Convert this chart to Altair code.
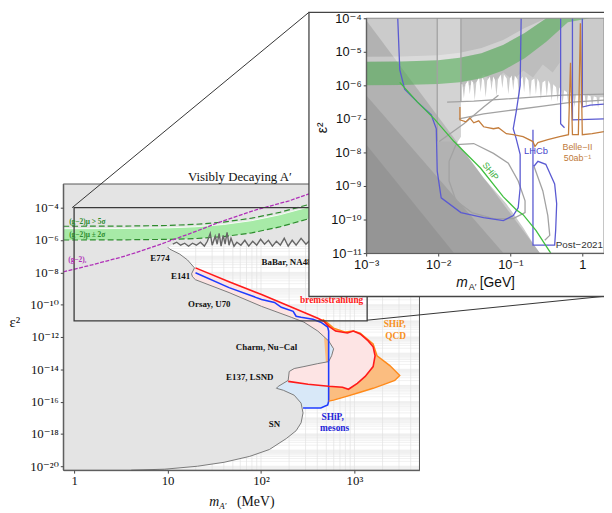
import altair as alt
import numpy as np
import pandas as pd

W, H = 604, 503
SERIF = "Liberation Serif, DejaVu Serif, serif"
SANS = "Liberation Sans, DejaVu Sans, sans-serif"

# ================= Main panel: log10(m_A' / MeV), log10(eps^2) =================
MAIN_LM_LIM = [-0.116, 3.696]
MAIN_LE_LIM = [-20.244, -2.534]
MAIN_XRANGE = [56, 417]
MAIN_YRANGE = [465, 175]

BABAR_LM = [1.056, 1.098, 1.140, 1.183, 1.225, 1.267, 1.309, 1.352, 1.394, 1.426,
            1.457, 1.478, 1.510, 1.531, 1.552, 1.573, 1.595, 1.616, 1.637, 1.658,
            1.679, 1.711, 1.742, 1.785, 1.827, 1.869, 1.911, 1.954, 1.996, 2.038,
            2.080, 2.122, 2.165, 2.207, 2.249, 2.291, 2.334, 2.376, 2.429, 2.481,
            2.513, 2.798, 3.221, 3.696]
BABAR_LE = [-6.260, -6.137, -6.321, -6.198, -6.382, -6.198, -6.321, -6.137, -6.382, -6.076,
            -5.588, -6.321, -5.771, -6.260, -5.588, -6.382, -5.710, -6.260, -5.527, -6.321,
            -5.893, -6.382, -6.137, -6.321, -6.015, -6.382, -6.076, -6.321, -5.954, -6.260,
            -6.015, -6.382, -6.076, -6.321, -5.893, -6.382, -6.015, -6.321, -5.893, -6.260,
            -6.076, -6.015, -5.893, -5.771]

BOUND_LM = [1.003, 1.024, 1.130, 1.214, 1.288, 1.257, 1.267, 1.299, 1.658, 2.006,
            2.323, 2.460, 2.608, 2.724, 2.777, 2.756, 2.724, 2.608, 2.460, 2.355,
            2.302, 2.291, 2.186, 2.165, 2.239, 2.355, 2.429, 2.450, 2.429, 2.376,
            2.270, 2.091, 1.880, 1.605, 1.320, 0.971, 0.612]
BOUND_LE = [-6.443, -6.565, -6.870, -7.237, -7.725, -8.092, -8.275, -8.458, -9.252, -10.107,
            -10.779, -11.084, -11.634, -12.244, -12.733, -13.160, -13.527, -13.649, -13.832, -13.954,
            -14.137, -14.687, -15.053, -15.176, -15.298, -15.603, -16.092, -16.702, -17.313, -17.802,
            -18.290, -18.962, -19.389, -19.756, -20.000, -20.183, -20.244]

RED_LM = [1.299, 1.658, 2.006, 2.355, 2.608, 2.672, 2.724, 2.798, 2.925, 2.988, 3.062,
          3.147, 3.200, 3.221, 3.200, 3.115, 3.031, 2.936, 2.872, 2.724, 2.503, 2.291]
RED_LE = [-7.725, -8.580, -9.374, -10.229, -10.840, -11.023, -11.328, -11.634, -11.756, -11.634, -11.817,
          -12.244, -12.611, -13.160, -13.832, -14.443, -14.870, -15.237, -15.115, -15.053, -14.931, -14.748]

BLUE_LM = [1.299, 1.658, 2.006, 2.144, 2.218, 2.344, 2.376, 2.429, 2.555, 2.640,
           2.714, 2.724, 2.724, 2.714, 2.640, 2.450]
BLUE_LE = [-8.031, -8.947, -9.679, -9.863, -10.168, -10.412, -10.718, -10.779, -10.901, -11.084,
           -11.389, -11.634, -15.969, -16.214, -16.397, -16.397]

ORANGE_LM = [2.661, 2.714, 2.777, 2.904, 2.988, 3.062, 3.200, 3.242, 3.379, 3.485,
             3.432, 3.347, 3.200, 3.062, 2.925, 2.777, 2.724]
ORANGE_LE = [-10.901, -11.145, -11.450, -11.695, -11.634, -11.756, -12.427, -13.160, -13.771, -14.382,
             -14.687, -14.870, -15.176, -15.420, -15.664, -15.908, -15.969]

G2_LM = [-0.12, 0.5, 1.0, 1.3, 1.6, 1.9, 2.2, 2.5, 2.8, 3.1, 3.4]
G2_TOP = [-5.30, -5.29, -5.25, -5.18, -5.04, -4.80, -4.44, -3.97, -3.40, -2.80, -2.20]
G2_BOT = [-6.00, -5.99, -5.96, -5.91, -5.79, -5.56, -5.19, -4.70, -4.12, -3.50, -2.90]
G2_5SIG = [-5.15, -5.14, -5.10, -5.03, -4.89, -4.65, -4.29, -3.82, -3.25, -2.65, -2.05]

GE_LM = [-0.116, 0.190, 0.549, 0.898, 1.246, 1.605, 1.954, 2.302, 2.513, 2.851]
GE_LE = [-7.969, -7.542, -6.992, -6.321, -5.588, -4.794, -4.122, -3.573, -3.145, -2.595]

BOX_LM = [0.0, 3.136]
BOX_LE = [-11.0, -4.0]

ML_TEXT = ["E774", "E141", "Orsay, U70", "Charm, Nu\u2212Cal", "E137, LSND", "SN",
           "bremsstrahlung", "SHiP,", "QCD", "SHiP,", "mesons"]
ML_LM = [0.919, 1.140, 1.447, 2.059, 1.880, 2.144, 2.756, 3.432, 3.442, 2.767, 2.788]
ML_LE = [-7.115, -8.214, -9.985, -12.611, -14.504, -17.374, -9.740, -11.206, -11.939, -16.947, -17.618]
ML_COLOR = ["#111", "#111", "#111", "#111", "#111", "#111", "#ff1a1a", "#f7901e", "#f7901e", "#2424d8", "#2424d8"]
ML_SIZE = [9, 9, 9, 9, 9, 9, 9.5, 9.5, 9.5, 9.5, 9.5]

MLL_TEXT = ["BaBar, NA48", "(g\u22122)\u03bc > 5\u03c3", "(g\u22122)\u03bc \u00b1 2\u03c3", "(g\u22122)\u2091"]
MLL_LM = [2.006, -0.053, -0.053, -0.063]
MLL_LE = [-7.359, -4.916, -5.710, -7.237]
MLL_COLOR = ["#111", "#2d8c2d", "#2d8c2d", "#b030b8"]
MLL_SIZE = [9, 7.5, 7.5, 7.5]

# ================= Inset: log10(m_A' / GeV), log10(eps^2) =================
INSET_LM_LIM = [-3.0, 0.301]
INSET_LE_LIM = [-11.0, -4.0]
INSET_XRANGE = [363, 604]
INSET_YRANGE = [245, 7]

I_FRINGE_LM = [-1.644, -1.562, -1.493, -1.411, -1.342, -1.260, -1.192, -1.110, -1.027, -0.959,
               -0.877, -0.808, -0.726, -0.644, -0.575, -0.493, -0.425, -0.342, -0.274, -0.192,
               -0.110, -0.027, 0.055, 0.137, 0.219]
I_FRINGE_TOP = [-5.971, -5.853, -5.912, -5.765, -5.853, -5.735, -5.824, -5.676, -5.794, -5.706,
                -5.824, -5.735, -5.853, -5.794, -5.912, -5.853, -5.971, -6.059, -6.147, -6.206,
                -6.265, -6.265, -6.294, -6.324, -6.353]
I_FRINGE_TIP = [-6.382, -6.265, -6.441, -6.206, -6.353, -6.147, -6.324, -6.088, -6.265, -6.147,
                -6.382, -6.206, -6.353, -6.265, -6.412, -6.324, -6.471, -6.500, -6.559, -6.618,
                -6.647, -6.588, -6.676, -6.647, -6.676]
I_WHITE_LEFT_LM = [-1.685, -1.685]
I_WHITE_LEFT_LE = [-7.529, -5.971]
I_WHITE_REST_LM = [0.301, 0.301, -0.589, -0.685, -0.822, -1.055, -1.370, -1.644, -1.753]
I_WHITE_REST_LE = [-6.353, -11.0, -11.0, -10.706, -10.235, -9.529, -8.765, -7.971, -7.765]
FRINGE_HALF = 0.022

I_DARK_LM = [-1.685, -0.315, -0.315, -0.411, -0.548, -0.685, -0.822, -0.959, -1.096, -1.233, -1.370, -1.507, -1.685]
I_DARK_LE = [-4.0, -4.0, -5.324, -5.618, -5.382, -5.765, -5.559, -5.853, -5.618, -5.912, -5.676, -5.971, -6.059]

I_LIGHT_LM = [-2.014, -1.685]
I_LIGHT_LE = [-7.676, -4.0]

I_DIAG_LM = [[-3.0, -0.589, -3.0], [-3.0, -1.096, -3.0], [-3.0, -1.781, -3.0]]
I_DIAG_LE = [[-4.059, -11.0, -11.0], [-6.294, -11.0, -11.0], [-7.765, -11.0, -11.0]]

I_SHIP_LM = [-2.534, -2.288, -2.055, -1.781, -1.411, -1.096, -0.918, -0.822, -0.644, -0.438]
I_SHIP_LE = [-5.912, -6.500, -7.000, -7.676, -8.471, -9.324, -9.706, -9.853, -10.324, -11.0]

I_BELLE_LM = [-1.699, -1.699, -1.616, -1.562, -1.507, -1.438, -1.370, -1.233, -1.164, -1.055,
              -0.959, -0.822, -0.685, -0.658, -0.616, -0.479, -0.315, -0.192, -0.164, -0.137,
              -0.055, -0.027, 0.0, 0.137, 0.301]
I_BELLE_LE = [-6.647, -7.029, -7.088, -6.971, -7.118, -7.059, -7.235, -7.294, -7.265, -7.441,
              -7.471, -7.529, -7.676, -7.824, -7.706, -7.618, -7.529, -7.471, -5.324, -7.471,
              -7.471, -4.147, -7.471, -7.441, -7.382]

I_LHCB_LM = [
    [-2.562, -2.534, -2.466, -2.288, -2.096, -2.027, -2.014, -1.959, -1.685, -1.370,
     -1.096, -0.959, -0.890, -0.863, -0.863, -0.918, -0.959, -0.918, -0.863, -0.849],
    [-0.685, -0.685, -0.384, -0.370, -0.356, -0.384, -0.507, -0.616, -0.671],
    [-0.301, -0.301, -0.247],
    [-0.137, -0.137, 0.301],
    [0.0, 0.0, 0.110, 0.301],
]
I_LHCB_LE = [
    [-4.0, -5.529, -6.118, -6.500, -6.882, -7.294, -8.559, -9.353, -9.794, -9.941,
     -10.029, -9.882, -9.647, -9.059, -8.059, -7.588, -7.294, -6.794, -6.000, -4.0],
    [-7.324, -10.765, -10.765, -10.324, -9.529, -8.941, -8.353, -8.265, -8.412],
    [-4.0, -7.147, -7.265],
    [-4.0, -7.029, -7.000],
    [-4.0, -6.647, -6.588, -6.559],
]

I_GRAY_LM = [
    [-1.877, -1.507, -1.096, -0.685, -0.274, 0.301],
    [-1.712, -1.370, -0.959, -0.548, -0.137, 0.301],
    [-1.986, -1.644, -1.370, -1.164],
    [-1.753, -1.507, -1.233, -1.027, -0.890, -0.795, -0.795, -0.959, -1.233, -1.534, -1.753, -1.849, -1.849, -1.753],
    [-0.671, -0.548, -0.479, -0.452, -0.521],
    [-2.014, -2.014],
    [-1.685, -1.685],
]
I_GRAY_LE = [
    [-6.500, -6.471, -6.412, -6.353, -6.294, -6.265],
    [-7.000, -6.853, -6.735, -6.618, -6.500, -6.441],
    [-7.676, -7.147, -6.647, -6.294],
    [-7.765, -7.735, -8.029, -8.324, -8.853, -9.441, -9.794, -9.971, -9.971, -9.794, -9.441, -8.853, -8.265, -7.765],
    [-8.412, -9.147, -9.882, -10.471, -10.618],
    [-4.0, -7.676],
    [-4.0, -6.500],
]

IL_TEXT = ["LHCb", "Belle\u2212II", "50ab\u207b\u00b9", "Post\u22122021"]
IL_LM = [-0.644, -0.068, -0.068, -0.041]
IL_LE = [-7.971, -7.853, -8.176, -10.765]
IL_COLOR = ["#4646cc", "#c07a3a", "#c07a3a", "#333333"]
IL_SIZE = [9.5, 9, 9, 10]

SUP = {"-": "\u207b", "0": "\u2070", "1": "\u00b9", "2": "\u00b2", "3": "\u00b3", "4": "\u2074",
       "5": "\u2075", "6": "\u2076", "7": "\u2077", "8": "\u2078", "9": "\u2079"}


def p10(a):
    return np.power(10.0, np.asarray(a, dtype=float))


def pts(lm, le, xfac=1.0):
    return pd.DataFrame({"x": p10(lm) * xfac, "y": p10(le), "i": np.arange(len(lm))})


def grouped(lms, les):
    frames = []
    for g, (a, b) in enumerate(zip(lms, les)):
        d = pts(a, b)
        d["g"] = g
        frames.append(d)
    return pd.concat(frames, ignore_index=True)


def scale(lims, rng):
    return alt.Scale(type="log", domain=[float(v) for v in p10(lims)], range=rng, nice=False, clamp=True)


SX = scale(MAIN_LM_LIM, MAIN_XRANGE)
SY = scale(MAIN_LE_LIM, MAIN_YRANGE)
SXI = scale(INSET_LM_LIM, INSET_XRANGE)
SYI = scale(INSET_LE_LIM, INSET_YRANGE)


def xy(sx, sy):
    return dict(x=alt.X("x:Q", scale=sx, axis=None), y=alt.Y("y:Q", scale=sy, axis=None))


def polygon(df, sx, sy, fill, opacity=1.0):
    return alt.Chart(df).mark_line(fill=fill, fillOpacity=opacity, strokeOpacity=0, interpolate="linear").encode(
        order="i:Q", **xy(sx, sy))


def path(df, sx, sy, color, width, dash=None, detail=False):
    kw = dict(color=color, strokeWidth=width, interpolate="linear")
    if dash:
        kw["strokeDash"] = dash
    enc = dict(order="i:Q", **xy(sx, sy))
    if detail:
        enc["detail"] = "g:N"
    return alt.Chart(df).mark_line(**kw).encode(**enc)


def texts(text, lm, le, colors, sizes, sx, sy, align, font, weight, xfac=1.0, angle=None):
    df = pd.DataFrame({"t": text, "x": p10(lm) * xfac, "y": p10(le), "c": colors, "s": sizes})
    kw = dict(align=align, baseline="middle", font=font, fontWeight=weight)
    if angle is not None:
        kw["angle"] = angle
    return alt.Chart(df).mark_text(**kw).encode(
        text="t:N", color=alt.Color("c:N", scale=None), size=alt.Size("s:Q", scale=None), **xy(sx, sy))


def label_expr(pairs):
    return " : ".join(f"datum.value == {v!r} ? '{t}'" for v, t in pairs) + " : ''"


def sup(n):
    return "".join(SUP[c] for c in str(n))


def axis(orient, offset, pairs, font, size, pad):
    return alt.Axis(orient=orient, offset=offset, values=[v for v, _ in pairs], labelExpr=label_expr(pairs),
                    grid=False, domain=True, domainColor="#555555", domainWidth=1, ticks=True, tickSize=3,
                    tickColor="#444", labelFont=font, zindex=1,
                    labelFontSize=size, labelColor="#111", labelPadding=pad, labelFlush=False,
                    labelOverlap=False, title=None)


# ---------------- main panel layers ----------------
main_x_pairs = [(1.0, "1"), (10.0, "10"), (100.0, "10" + sup(2)), (1000.0, "10" + sup(3))]
main_y_pairs = [(float(f"1e{e}"), "10" + sup(e)) for e in range(-20, -3, 2)]
AX_MX = axis("bottom", MAIN_YRANGE[0] - H, main_x_pairs, SERIF, 13, 2)
AX_MY = axis("left", -MAIN_XRANGE[0], main_y_pairs, SERIF, 13, 2)

xmin, xmax = [float(v) for v in p10(MAIN_LM_LIM)]
ymin, ymax = [float(v) for v in p10(MAIN_LE_LIM)]
xgrid = [float(f"{k}e{e}") for e in range(-1, 4) for k in range(1, 10) if xmin <= float(f"{k}e{e}") <= xmax]
ygrid = [float(f"{k}e{e}") for e in range(-21, -2) for k in range(1, 10) if ymin <= float(f"{k}e{e}") <= ymax]

grid_x = alt.Chart(pd.DataFrame({"x": xgrid, "y0": ymin, "y1": ymax})).mark_rule(color="#dddddd", strokeWidth=0.6).encode(
    x=alt.X("x:Q", scale=SX, axis=None), y=alt.Y("y0:Q", scale=SY, axis=None), y2="y1:Q")
grid_y = alt.Chart(pd.DataFrame({"y": ygrid, "x0": xmin, "x1": xmax})).mark_rule(color="#e2e2e2", strokeWidth=0.5).encode(
    y=alt.Y("y:Q", scale=SY, axis=None), x=alt.X("x0:Q", scale=SX, axis=None), x2="x1:Q")

gray_lm = [MAIN_LM_LIM[0], MAIN_LM_LIM[1], MAIN_LM_LIM[1]] + BABAR_LM[::-1] + BOUND_LM + [MAIN_LM_LIM[0]]
gray_le = [MAIN_LE_LIM[1], MAIN_LE_LIM[1], BABAR_LE[-1]] + BABAR_LE[::-1] + BOUND_LE + [MAIN_LE_LIM[0]]
gray_poly = polygon(pts(gray_lm, gray_le), SX, SY, "#e4e4e4")

g2 = pd.DataFrame({"x": p10(G2_LM), "top": p10(G2_TOP), "bot": p10(G2_BOT), "s5": p10(G2_5SIG), "i": np.arange(len(G2_LM))})
g2_area = alt.Chart(g2).mark_area(color="#a7eaa7", opacity=1).encode(
    x=alt.X("x:Q", scale=SX, axis=None), y=alt.Y("top:Q", scale=SY, axis=None), y2="bot:Q")
g2_bot = alt.Chart(g2).mark_line(color="#2d8c2d", strokeWidth=1.2, strokeDash=[6, 3]).encode(
    x=alt.X("x:Q", scale=SX, axis=None), y=alt.Y("bot:Q", scale=SY, axis=None), order="i:Q")
g2_topl = alt.Chart(g2).mark_line(color="#f4fff4", strokeWidth=1).encode(
    x=alt.X("x:Q", scale=SX, axis=None), y=alt.Y("top:Q", scale=SY, axis=None), order="i:Q")
g2_5s = alt.Chart(g2).mark_line(color="#2d8c2d", strokeWidth=1.2, strokeDash=[6, 3]).encode(
    x=alt.X("x:Q", scale=SX, axis=None), y=alt.Y("s5:Q", scale=SY, axis=None), order="i:Q")

purple = path(pts(GE_LM, GE_LE), SX, SY, "#b030b8", 1.3, dash=[4, 1.5])
babar = path(pts(BABAR_LM, BABAR_LE), SX, SY, "#666666", 1.4)

orange_poly = polygon(pts(ORANGE_LM, ORANGE_LE), SX, SY, "#fbbd80")
blue_poly = polygon(pts(BLUE_LM + BOUND_LM[4:27][::-1], BLUE_LE + BOUND_LE[4:27][::-1]), SX, SY, "#d8e8f8")
pink_poly = polygon(pts(RED_LM + BOUND_LM[4:22][::-1], RED_LE + BOUND_LE[4:22][::-1]), SX, SY, "#fde4e4")

bound_line = path(pts(BOUND_LM, BOUND_LE), SX, SY, "#7a7a7a", 1.0)
blue_line = path(pts(BLUE_LM, BLUE_LE), SX, SY, "#1e3cff", 1.6)
orange_line = path(pts(ORANGE_LM, ORANGE_LE), SX, SY, "#ff8a1a", 1.4)
red_line = path(pts(RED_LM, RED_LE), SX, SY, "#ff1a1a", 1.6)

box = alt.Chart(pd.DataFrame({"x": [float(p10(BOX_LM[0]))], "x2": [float(p10(BOX_LM[1]))],
                              "y": [float(p10(BOX_LE[0]))], "y2": [float(p10(BOX_LE[1]))]})).mark_rect(
    fillOpacity=0, stroke="#3a3a3a", strokeWidth=1.3).encode(
    x=alt.X("x:Q", scale=SX, axis=None), x2="x2:Q", y=alt.Y("y:Q", scale=SY, axis=None), y2="y2:Q")

main_frame = alt.Chart(pd.DataFrame({"x": [xmin], "x2": [xmax], "y": [ymin], "y2": [ymax]})).mark_rect(
    fillOpacity=0, stroke="#555555", strokeWidth=1).encode(
    x=alt.X("x:Q", scale=SX, axis=AX_MX), x2="x2:Q", y=alt.Y("y:Q", scale=SY, axis=AX_MY), y2="y2:Q")

main_lab_c = texts(ML_TEXT, ML_LM, ML_LE, ML_COLOR, ML_SIZE, SX, SY, "center", SERIF, "bold")
main_lab_l = texts(MLL_TEXT, MLL_LM, MLL_LE, MLL_COLOR, MLL_SIZE, SX, SY, "left", SERIF, "bold")

main_layers = [grid_x, grid_y, gray_poly, g2_area, g2_topl, g2_bot, g2_5s, purple, babar,
               orange_poly, blue_poly, pink_poly, bound_line, blue_line, orange_line, red_line,
               box, main_frame, main_lab_c, main_lab_l]

# ---------------- overlay: connectors, inset frame, titles ----------------
one = pd.DataFrame({"k": [0]})
conn1 = alt.Chart(one).mark_rule(color="#333", strokeWidth=1).encode(
    x=alt.value(65), y=alt.value(199), x2=alt.value(305), y2=alt.value(1))
conn2 = alt.Chart(one).mark_rule(color="#333", strokeWidth=1).encode(
    x=alt.value(364), y=alt.value(313), x2=alt.value(612), y2=alt.value(288))
inset_box = alt.Chart(one).mark_rect(fill="white", stroke="#444", strokeWidth=1.3).encode(
    x=alt.value(305), x2=alt.value(614), y=alt.value(1), y2=alt.value(289))


def vtext(txt, x, y, size, font, align="center", style="normal", angle=None, baseline="middle"):
    kw = dict(font=font, fontSize=size, align=align, baseline=baseline, fontStyle=style, color="#111")
    if angle is not None:
        kw["angle"] = angle
    return alt.Chart(one).mark_text(**kw).encode(x=alt.value(x), y=alt.value(y), text=alt.value(txt))


titles = [
    vtext("Visibly Decaying A\u2032", 235, 168, 13, SERIF),
    vtext("\u03b5\u00b2", 7, 315, 15, SERIF),
    vtext("m", 209, 497, 14, SERIF, style="italic"),
    vtext("A\u2032", 214, 501, 9, SERIF, align="left", style="italic"),
    vtext("(MeV)", 232, 497, 14, SERIF, align="left"),
    vtext("\u03b5\u00b2", 319, 118, 14, SANS, angle=270),
    vtext("m", 460, 275, 14, SANS, style="italic"),
    vtext("A\u2032", 467, 279, 9, SANS, align="left"),
    vtext("[GeV]", 478, 275, 14, SANS, align="left"),
]
overlay_layers = [conn1, conn2, inset_box] + titles

# ---------------- inset layers ----------------
ix_pairs = [(1e-3, "10" + sup(-3)), (1e-2, "10" + sup(-2)), (1e-1, "10" + sup(-1)), (1.0, "1")]
iy_pairs = [(float(f"1e{e}"), "10" + sup(e)) for e in range(-11, -3)]
AX_IX = axis("bottom", INSET_YRANGE[0] - H, ix_pairs, SANS, 13, 3)
AX_IY = axis("left", -INSET_XRANGE[0], iy_pairs, SANS, 13, 2)

ixmin, ixmax = [float(v) for v in p10(INSET_LM_LIM)]
iymin, iymax = [float(v) for v in p10(INSET_LE_LIM)]


def irect(x0, x1, y0, y1, fill, axes=False, stroke=None):
    d = pd.DataFrame({"x": [x0], "x2": [x1], "y": [y0], "y2": [y1]})
    if stroke:
        mk = alt.Chart(d).mark_rect(fillOpacity=0, stroke=stroke, strokeWidth=1)
    else:
        mk = alt.Chart(d).mark_rect(fill=fill)
    return mk.encode(x=alt.X("x:Q", scale=SXI, axis=AX_IX if axes else None), x2="x2:Q",
                     y=alt.Y("y:Q", scale=SYI, axis=AX_IY if axes else None), y2="y2:Q")


i_bg = irect(ixmin, ixmax, iymin, iymax, "#cbcbcb")
i_light = irect(float(p10(I_LIGHT_LM[0])), float(p10(I_LIGHT_LM[1])), float(p10(I_LIGHT_LE[0])),
                float(p10(I_LIGHT_LE[1])), "#d3d3d3")
i_dark = polygon(pts(I_DARK_LM, I_DARK_LE), SXI, SYI, "#bdbdbd")

w_lm = list(I_WHITE_LEFT_LM)
w_le = list(I_WHITE_LEFT_LE)
for c, t, d in zip(I_FRINGE_LM, I_FRINGE_TOP, I_FRINGE_TIP):
    w_lm += [c - FRINGE_HALF, c, c + FRINGE_HALF]
    w_le += [t, d, t]
w_lm += I_WHITE_REST_LM
w_le += I_WHITE_REST_LE
i_white = polygon(pts(w_lm, w_le), SXI, SYI, "#ffffff")
i_diag = [polygon(pts(a, b), SXI, SYI, "#7a7a7a", 0.3) for a, b in zip(I_DIAG_LM, I_DIAG_LE)]

g2i = g2.copy()
g2i["x"] = g2i["x"] * 1e-3
i_g2 = alt.Chart(g2i).mark_area(color="#4caf50", opacity=0.55).encode(
    x=alt.X("x:Q", scale=SXI, axis=None), y=alt.Y("top:Q", scale=SYI, axis=None), y2="bot:Q")
i_g2s = alt.Chart(g2i).mark_area(color="#ffffff", opacity=0.3).encode(
    x=alt.X("x:Q", scale=SXI, axis=None), y=alt.Y("s5:Q", scale=SYI, axis=None), y2="top:Q")

i_gray = path(grouped(I_GRAY_LM, I_GRAY_LE), SXI, SYI, "#a2a2a2", 1.3, detail=True)
i_lhcb = path(grouped(I_LHCB_LM, I_LHCB_LE), SXI, SYI, "#5a5ad2", 1.3, detail=True)
i_belle = path(pts(I_BELLE_LM, I_BELLE_LE), SXI, SYI, "#c47d3c", 1.3)
i_ship = path(pts(I_SHIP_LM, I_SHIP_LE), SXI, SYI, "#3fbf3f", 1.3)

i_lab = texts(IL_TEXT, IL_LM, IL_LE, IL_COLOR, IL_SIZE, SXI, SYI, "center", SANS, "normal")
i_ship_lab = texts(["SHiP"], [-1.274], [-8.559], ["#3cb043"], [9], SXI, SYI, "center", SANS, "normal", angle=52)
i_frame = irect(ixmin, ixmax, iymin, iymax, None, axes=True, stroke="#8a8a8a")

inset_layers = [i_bg, i_light, i_dark, i_white] + i_diag + [i_g2s, i_g2, i_gray, i_lhcb, i_belle,
                                                            i_ship, i_lab, i_ship_lab, i_frame]

chart = alt.layer(*(main_layers + overlay_layers + inset_layers)).resolve_scale(
    x="independent", y="independent").properties(
    width=W, height=H, padding=0, autosize=alt.AutoSizeParams(type="none")).configure_view(strokeWidth=0)

chart.save("out.html", embed_options={"renderer": "svg", "actions": False})
